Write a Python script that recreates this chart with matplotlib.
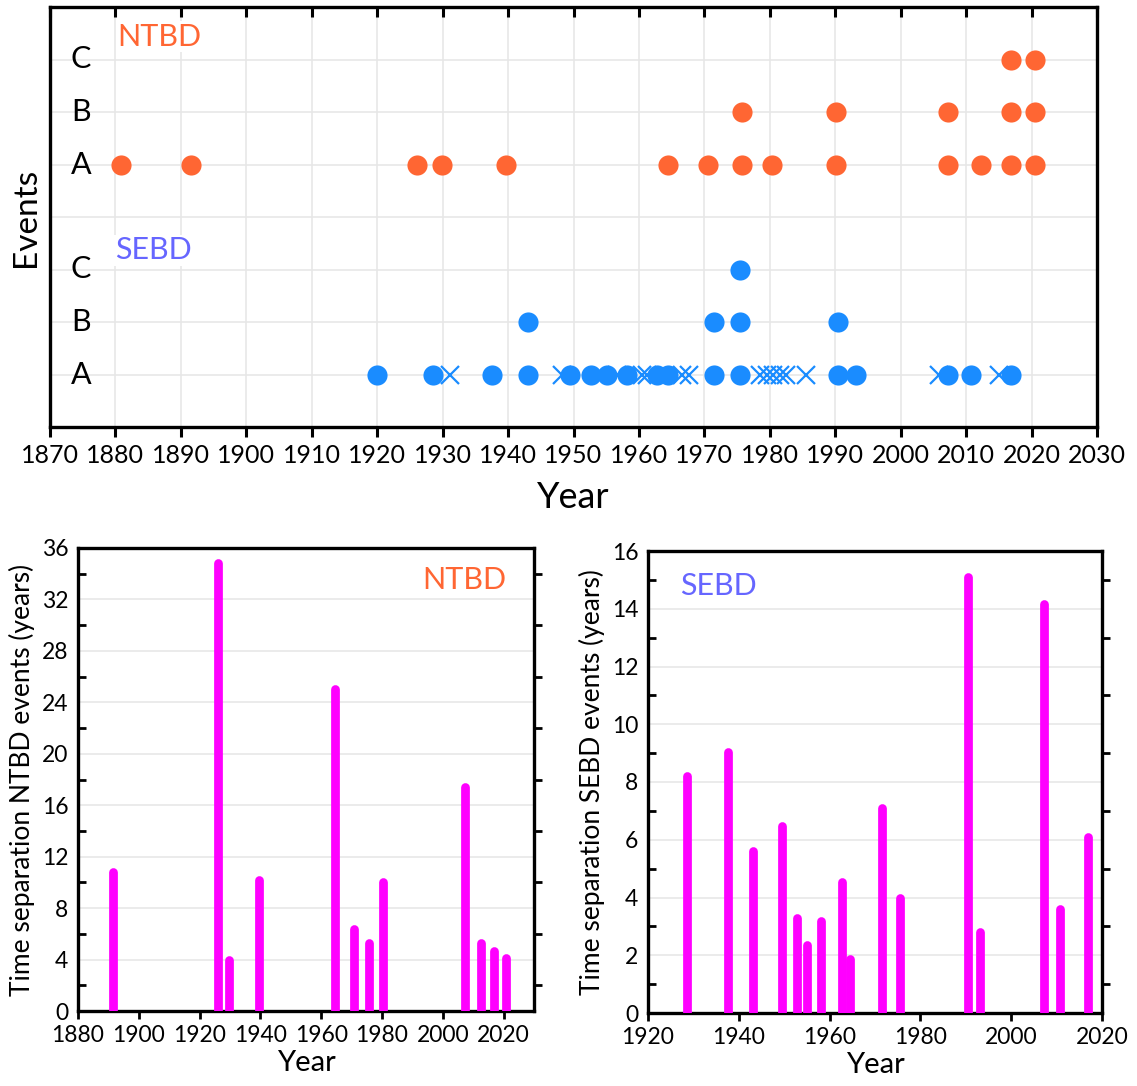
import matplotlib
matplotlib.use("Agg")
import matplotlib.pyplot as plt
import numpy as np

plt.rcParams['font.family'] = ['Lato', 'DejaVu Sans']

# ---------------- data ----------------
# NTBD events (top chart), rows A/B/C
ntbd_A = [1880.9, 1891.5, 1926.1, 1929.9, 1939.7, 1964.5, 1970.6, 1975.7,
          1980.4, 1990.1, 2007.2, 2012.3, 2016.8, 2020.6]
ntbd_B = [1975.7, 1990.1, 2007.2, 2016.8, 2020.6]
ntbd_C = [2016.8, 2020.6]

# SEBD events (top chart), rows A/B/C, plus cross markers on row A
sebd_A = [1919.9, 1928.5, 1937.6, 1943.1, 1949.5, 1952.7, 1955.1, 1958.2,
          1962.7, 1964.4, 1971.4, 1975.5, 1990.4, 1993.2, 2007.2, 2010.8, 2016.9]
sebd_A_cross = [1931.1, 1948.2, 1956.6, 1960.5, 1961.2, 1966.6, 1967.6,
                1978.5, 1979.5, 1980.5, 1981.5, 1982.4, 1985.5, 2005.8, 2015.0]
sebd_B = [1943.1, 1971.5, 1975.5, 1990.4]
sebd_C = [1975.5]

row_labels = ["A", "B", "C"]

# Time separations (bottom charts)
ntbd_sep_year = [1891.4, 1925.9, 1929.8, 1939.7, 1964.5, 1970.7, 1975.7,
                 1980.4, 2007.3, 2012.5, 2016.9, 2020.8]
ntbd_sep_val = [10.8, 34.8, 4.0, 10.2, 25.0, 6.4, 5.3, 10.0, 17.4, 5.3, 4.7, 4.1]

sebd_sep_year = [1928.5, 1937.6, 1943.1, 1949.5, 1952.8, 1955.1, 1958.2,
                 1962.7, 1964.4, 1971.5, 1975.5, 1990.4, 1993.2, 2007.2,
                 2010.8, 2016.9]
sebd_sep_val = [8.2, 9.05, 5.6, 6.47, 3.3, 2.35, 3.2, 4.55, 1.87, 7.1, 4.0,
                15.1, 2.8, 14.15, 3.6, 6.1]

# ---------------- style ----------------
ORANGE = "#FF6633"
BLUE = "#1A8CFF"
SEBD_TXT = "#6666FF"
MAGENTA = "#FF00FF"
GRID = "#E6E6E6"
SPW = 2.4

W, H = 1137, 1086
fig = plt.figure(figsize=(W / 100, H / 100), dpi=100)


def frac(l, t, r, b):
    return [l / W, 1 - b / H, (r - l) / W, (b - t) / H]


# ---------------- top chart ----------------
ax = fig.add_axes(frac(50, 7, 1097, 427))
ax.set_xlim(1870, 2030)
ax.set_ylim(0, 8)
ax.set_xticks(np.arange(1870, 2031, 10))
ax.set_yticks(np.arange(1, 8))
ax.set_yticklabels([])
ax.tick_params(axis='y', length=0)
ax.tick_params(axis='x', direction='out', length=7, width=2.2,
               labelsize=18, pad=5)
ax.grid(True, color=GRID, lw=1.1)
ax.set_axisbelow(True)
for s in ax.spines.values():
    s.set_linewidth(SPW)

axt = ax.twiny()
axt.set_xlim(ax.get_xlim())
axt.set_xticks(np.arange(1870, 2031, 10))
axt.tick_params(axis='x', direction='in', length=7, width=2.2, labeltop=False)
for s in axt.spines.values():
    s.set_visible(False)

# NTBD rows at y=5,6,7 ; SEBD rows at y=1,2,3
for yrow, xs in zip([5, 6, 7], [ntbd_A, ntbd_B, ntbd_C]):
    ax.plot(xs, [yrow] * len(xs), 'o', ms=14.5, color=ORANGE, mec='none',
            zorder=4, clip_on=False)
ax.plot(sebd_A_cross, [1] * len(sebd_A_cross), 'x', ms=13, mew=1.6,
        color=BLUE, zorder=3)
for yrow, xs in zip([1, 2, 3], [sebd_A, sebd_B, sebd_C]):
    ax.plot(xs, [yrow] * len(xs), 'o', ms=14.5, color=BLUE, mec='none',
            zorder=4)

for yrow, lab in zip([5, 6, 7, 1, 2, 3], row_labels * 2):
    ax.text(1874.7, yrow, lab, ha='center', va='center', fontsize=22,
            color='black')

ax.text(1880.3, 7.43, "NTBD", color=ORANGE, fontsize=22, ha='left',
        va='center', bbox=dict(fc='white', ec='none', pad=1))
ax.text(1880.0, 3.37, "SEBD", color=SEBD_TXT, fontsize=22, ha='left',
        va='center', bbox=dict(fc='white', ec='none', pad=1))

ax.set_xlabel("Year", fontsize=26, labelpad=10)
ax.set_ylabel("Events", fontsize=24)
ax.yaxis.set_label_coords(-0.009, 0.5)


# ---------------- bottom charts ----------------
def bar_panel(rect, xlim, xticks, ylim, yticks, yminor, years, vals,
              ylabel, label, label_color, label_xy):
    a = fig.add_axes(rect)
    a.set_xlim(*xlim)
    a.set_ylim(*ylim)
    a.vlines(years, 0, vals, colors=MAGENTA, lw=6.3, capstyle='round',
             zorder=3)
    a.set_xticks(xticks)
    a.set_yticks(yticks)
    a.set_yticks(yminor, minor=True)
    a.tick_params(axis='y', which='major', length=0, labelsize=16.5, pad=7)
    a.tick_params(axis='y', which='minor', direction='in', length=6,
                  width=2)
    a.tick_params(axis='x', which='major', direction='out', length=6,
                  width=2, labelsize=16.5, pad=4)
    a.grid(True, axis='y', which='major', color=GRID, lw=1.1)
    a.set_axisbelow(True)
    for s in a.spines.values():
        s.set_linewidth(SPW)
    a2 = a.twinx()
    a2.set_ylim(*ylim)
    a2.set_yticks(yminor)
    a2.tick_params(axis='y', direction='out', length=6, width=2,
                   labelright=False)
    for s in a2.spines.values():
        s.set_visible(False)
    a.set_xlabel("Year", fontsize=21, labelpad=3)
    a.set_ylabel(ylabel, fontsize=19, labelpad=5)
    a.text(label_xy[0], label_xy[1], label, color=label_color, fontsize=22,
           ha='left', va='center', transform=a.transAxes, zorder=5,
           bbox=dict(fc='white', ec='none', pad=1))
    return a


bar_panel(frac(78, 548, 534, 1011), (1880, 2030), np.arange(1880, 2021, 20),
          (0, 36), np.arange(0, 37, 4), np.arange(2, 36, 4),
          ntbd_sep_year, ntbd_sep_val,
          "Time separation NTBD events (years)", "NTBD", ORANGE, (0.755, 0.93))

bar_panel(frac(648, 551, 1102, 1013), (1920, 2020), np.arange(1920, 2021, 20),
          (0, 16), np.arange(0, 17, 2), np.arange(1, 16, 2),
          sebd_sep_year, sebd_sep_val,
          "Time separation SEBD events (years)", "SEBD", SEBD_TXT, (0.07, 0.925))

fig.savefig("out.png", dpi=100)
